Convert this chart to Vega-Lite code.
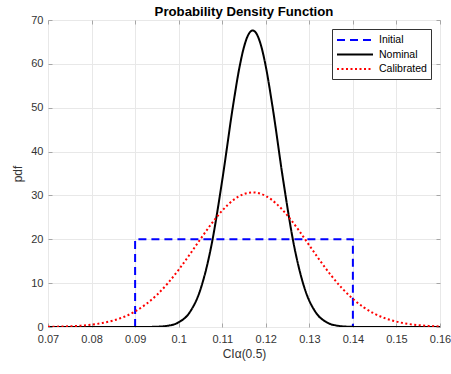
{
  "$schema": "https://vega.github.io/schema/vega-lite/v6.json",
  "width": 392,
  "height": 307,
  "autosize": {"type": "none"},
  "padding": {"left": 48, "top": 20, "right": 11, "bottom": 47},
  "background": "white",
  "title": {"text": "Probability Density Function", "fontSize": 13.2, "font": "Liberation Sans", "fontWeight": "bold", "color": "#000000", "offset": -5, "anchor": "middle"},
  "config": {
    "font": "Liberation Sans",
    "view": {"stroke": "#a6a6a6", "strokeWidth": 1},
    "axis": {"labelFont": "Liberation Sans", "titleFont": "Liberation Sans", "labelFontSize": 11, "titleFontSize": 12, "labelColor": "#333333", "titleColor": "#333333", "titleFontWeight": "normal", "domainColor": "#a6a6a6", "tickColor": "#a6a6a6", "gridColor": "#e8e8e8", "gridWidth": 1}
  },
  "datasets": {
    "initial": [
      {"x": 0.09, "y": 0, "series": "Initial"},
      {"x": 0.09, "y": 20, "series": "Initial"},
      {"x": 0.14, "y": 20, "series": "Initial"},
      {"x": 0.14, "y": 0, "series": "Initial"}
    ],
    "curves": [
      {"x": 0.07, "y": 0, "series": "Nominal"},
      {"x": 0.075, "y": 0, "series": "Nominal"},
      {"x": 0.08, "y": 0, "series": "Nominal"},
      {"x": 0.085, "y": 0, "series": "Nominal"},
      {"x": 0.0875, "y": 0.0003, "series": "Nominal"},
      {"x": 0.09, "y": 0.002, "series": "Nominal"},
      {"x": 0.0925, "y": 0.012, "series": "Nominal"},
      {"x": 0.095, "y": 0.065, "series": "Nominal"},
      {"x": 0.0975, "y": 0.287, "series": "Nominal"},
      {"x": 0.1, "y": 1.065, "series": "Nominal"},
      {"x": 0.1025, "y": 3.3, "series": "Nominal"},
      {"x": 0.105, "y": 8.55, "series": "Nominal"},
      {"x": 0.1075, "y": 18.5, "series": "Nominal"},
      {"x": 0.11, "y": 33.45, "series": "Nominal"},
      {"x": 0.1125, "y": 50.55, "series": "Nominal"},
      {"x": 0.114, "y": 59.42, "series": "Nominal"},
      {"x": 0.115, "y": 63.85, "series": "Nominal"},
      {"x": 0.116, "y": 66.65, "series": "Nominal"},
      {"x": 0.117, "y": 67.62, "series": "Nominal"},
      {"x": 0.118, "y": 66.65, "series": "Nominal"},
      {"x": 0.119, "y": 63.85, "series": "Nominal"},
      {"x": 0.12, "y": 59.42, "series": "Nominal"},
      {"x": 0.1215, "y": 50.55, "series": "Nominal"},
      {"x": 0.124, "y": 33.45, "series": "Nominal"},
      {"x": 0.1265, "y": 18.5, "series": "Nominal"},
      {"x": 0.129, "y": 8.55, "series": "Nominal"},
      {"x": 0.1315, "y": 3.3, "series": "Nominal"},
      {"x": 0.134, "y": 1.065, "series": "Nominal"},
      {"x": 0.1365, "y": 0.287, "series": "Nominal"},
      {"x": 0.139, "y": 0.065, "series": "Nominal"},
      {"x": 0.1415, "y": 0.012, "series": "Nominal"},
      {"x": 0.144, "y": 0.002, "series": "Nominal"},
      {"x": 0.1465, "y": 0.0003, "series": "Nominal"},
      {"x": 0.149, "y": 0, "series": "Nominal"},
      {"x": 0.155, "y": 0, "series": "Nominal"},
      {"x": 0.16, "y": 0, "series": "Nominal"},
      {"x": 0.07, "y": 0.045, "series": "Calibrated"},
      {"x": 0.0725, "y": 0.088, "series": "Calibrated"},
      {"x": 0.075, "y": 0.166, "series": "Calibrated"},
      {"x": 0.0775, "y": 0.304, "series": "Calibrated"},
      {"x": 0.08, "y": 0.535, "series": "Calibrated"},
      {"x": 0.0825, "y": 0.907, "series": "Calibrated"},
      {"x": 0.085, "y": 1.483, "series": "Calibrated"},
      {"x": 0.0875, "y": 2.337, "series": "Calibrated"},
      {"x": 0.09, "y": 3.55, "series": "Calibrated"},
      {"x": 0.0925, "y": 5.197, "series": "Calibrated"},
      {"x": 0.095, "y": 7.329, "series": "Calibrated"},
      {"x": 0.0975, "y": 9.965, "series": "Calibrated"},
      {"x": 0.1, "y": 13.05, "series": "Calibrated"},
      {"x": 0.1025, "y": 16.48, "series": "Calibrated"},
      {"x": 0.105, "y": 20.04, "series": "Calibrated"},
      {"x": 0.1075, "y": 23.5, "series": "Calibrated"},
      {"x": 0.11, "y": 26.55, "series": "Calibrated"},
      {"x": 0.1125, "y": 28.91, "series": "Calibrated"},
      {"x": 0.115, "y": 30.33, "series": "Calibrated"},
      {"x": 0.117, "y": 30.69, "series": "Calibrated"},
      {"x": 0.12, "y": 29.88, "series": "Calibrated"},
      {"x": 0.1225, "y": 28.06, "series": "Calibrated"},
      {"x": 0.125, "y": 25.4, "series": "Calibrated"},
      {"x": 0.1275, "y": 22.15, "series": "Calibrated"},
      {"x": 0.13, "y": 18.61, "series": "Calibrated"},
      {"x": 0.1325, "y": 15.07, "series": "Calibrated"},
      {"x": 0.135, "y": 11.77, "series": "Calibrated"},
      {"x": 0.1375, "y": 8.851, "series": "Calibrated"},
      {"x": 0.14, "y": 6.417, "series": "Calibrated"},
      {"x": 0.1425, "y": 4.481, "series": "Calibrated"},
      {"x": 0.145, "y": 3.017, "series": "Calibrated"},
      {"x": 0.1475, "y": 1.957, "series": "Calibrated"},
      {"x": 0.15, "y": 1.224, "series": "Calibrated"},
      {"x": 0.1525, "y": 0.738, "series": "Calibrated"},
      {"x": 0.155, "y": 0.428, "series": "Calibrated"},
      {"x": 0.1575, "y": 0.24, "series": "Calibrated"},
      {"x": 0.16, "y": 0.129, "series": "Calibrated"}
    ]
  },
  "resolve": {"axis": {"x": "independent", "y": "independent"}},
  "layer": [
    {
      "data": {"name": "initial"},
      "mark": {"type": "line", "strokeWidth": 2, "clip": true},
      "encoding": {
        "x": {"field": "x", "type": "quantitative", "scale": {"domain": [0.07, 0.16], "nice": false, "zero": false},
          "axis": {"title": "CIα(0.5)", "values": [0.07, 0.08, 0.09, 0.1, 0.11, 0.12, 0.13, 0.14, 0.15, 0.16], "format": "~g", "grid": true, "tickSize": -4, "labelPadding": 10, "titlePadding": 4, "domain": false, "labelFlush": false}},
        "y": {"field": "y", "type": "quantitative", "scale": {"domain": [0, 70], "nice": false},
          "axis": {"title": "pdf", "values": [0, 10, 20, 30, 40, 50, 60, 70], "grid": true, "tickSize": -4, "labelPadding": 9, "titlePadding": 6, "domain": false}},
        "color": {"field": "series", "type": "nominal", "scale": {"domain": ["Initial", "Nominal", "Calibrated"], "range": ["#0000ff", "#000000", "#ff0000"]},
          "legend": {"title": null, "orient": "top-right", "offset": 9, "symbolType": "M-1,0H5", "symbolSize": 144, "symbolStrokeWidth": 2, "symbolFillColor": "transparent", "labelFontSize": 10.5, "labelColor": "#000000", "labelFont": "Liberation Sans", "strokeColor": "#333333", "fillColor": "white", "padding": 4, "rowPadding": 1.5, "labelOffset": 29}},
        "strokeDash": {"field": "series", "type": "nominal", "scale": {"domain": ["Initial", "Nominal", "Calibrated"], "range": [[8, 5], [1, 0], [2, 2.5]]},
          "legend": {"title": null, "orient": "top-right", "offset": 9, "symbolType": "M-1,0H5", "symbolSize": 144, "symbolStrokeWidth": 2, "symbolFillColor": "transparent", "labelFontSize": 10.5, "labelColor": "#000000", "labelFont": "Liberation Sans", "strokeColor": "#333333", "fillColor": "white", "padding": 4, "rowPadding": 1.5, "labelOffset": 29}}
      }
    },
    {
      "data": {"name": "curves"},
      "mark": {"type": "line", "strokeWidth": 2, "interpolate": "monotone", "clip": true},
      "encoding": {
        "x": {"field": "x", "type": "quantitative", "scale": {"domain": [0.07, 0.16], "nice": false, "zero": false},
          "axis": {"orient": "top", "title": null, "labels": false, "values": [0.07, 0.08, 0.09, 0.1, 0.11, 0.12, 0.13, 0.14, 0.15, 0.16], "grid": false, "tickSize": -4, "domain": false}},
        "y": {"field": "y", "type": "quantitative", "scale": {"domain": [0, 70], "nice": false},
          "axis": {"orient": "right", "title": null, "labels": false, "values": [0, 10, 20, 30, 40, 50, 60, 70], "grid": false, "tickSize": -4, "domain": false}},
        "color": {"field": "series", "type": "nominal"},
        "strokeDash": {"field": "series", "type": "nominal"}
      }
    }
  ]
}
